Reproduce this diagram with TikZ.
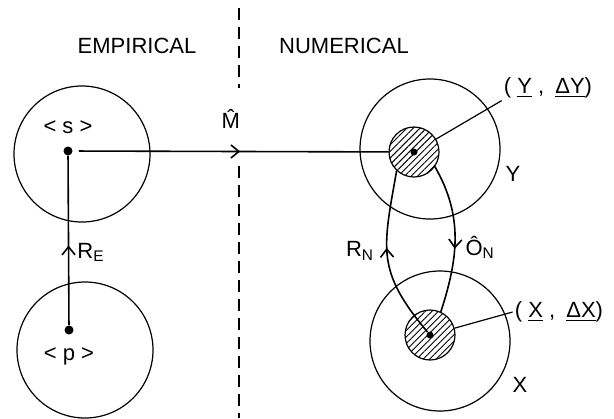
\documentclass[tikz,border=0pt]{standalone}
\usepackage{fontspec}
\setmainfont{Liberation Sans}
\usetikzlibrary{arrows.meta,positioning,decorations.markings,patterns.meta}
\tikzset{
  regcirc/.style={circle, draw, line width=0.6pt, minimum size=#1, inner sep=0pt},
  errcirc/.style={circle, draw, line width=0.6pt, minimum size=25pt, inner sep=0pt,
                  pattern={Lines[angle=45, distance=2.3pt, line width=0.45pt]}},
  ptdot/.style={circle, fill, minimum size=#1, inner sep=0pt},
  lab/.style={font=\fontsize{11}{13}\selectfont, inner sep=1pt},
  arr/.style={line width=0.8pt},
  midarr/.style={postaction={decorate}, decoration={markings,
                 mark=at position #1 with {\arrow{Straight Barb[length=4pt,width=6.5pt,line width=0.8pt]}}}},
  divline/.style={line width=0.6pt, dash pattern=on 6pt off 3.5pt},
}

\begin{document}
\begin{tikzpicture}[x=0.5pt, y=-0.5pt]
  \useasboundingbox (0,0) rectangle (614,418);
  % dividing line
  \coordinate (divA) at (239,8);
  \coordinate (divB) at (239,88);
  \coordinate (divC) at (239,166);
  \coordinate (divD) at (239,418);
  \draw[divline] (divA) -- (divB);
  \draw[divline] (divC) -- (divD);
  \node[lab] (empL) at (137,46) {EMPIRICAL};
  \node[lab] (numL) at (344,46) {NUMERICAL};
  % regions
  \node[regcirc=68pt] (regS) at (82,154) {};
  \node[regcirc=68pt] (regP) at (85,350) {};
  \node[regcirc=70pt] (regY) at (430,149) {};
  \node[regcirc=70pt] (regX) at (440,341) {};
  \node[errcirc] (errY) at (414,152) {};
  \node[errcirc] (errX) at (430,335) {};
  % points
  \node[ptdot=4.5pt] (dotS) at (68,151) {};
  \node[ptdot=4.5pt] (dotP) at (69,330) {};
  \node[ptdot=3.5pt] (dotY) at (errY) {};
  \node[ptdot=3.5pt] (dotX) at (errX) {};
  \node[lab, above=5pt of dotS] (labS) {< s >};
  \node[lab, below=5pt of dotP] (labP) {< p >};
  \node[lab] (labRY) at (513,174) {Y};
  \node[lab] (labRX) at (520,385) {X};
  \node[lab] (labYD) at (548,88) {( \underline{Y} ,\enspace\underline{ΔY})};
  \node[lab] (labXD) at (559,312) {( \underline{X} ,\enspace\underline{ΔX})};
  % relations
  \draw[arr, midarr=0.47] (dotP) -- node[lab, pos=0.43, right=3pt] {R\textsubscript{E}} (dotS);
  \draw[arr, midarr=0.53, shorten <=3pt] (dotS) -- node[lab, above=10pt] {\^{M}} (errY);
  \draw[arr, midarr=0.55] (dotX) to[out=130, in=-100, looseness=1.25] node[lab, pos=0.55, left=5pt] {R\textsubscript{N}} (errY.227);
  \draw[arr, midarr=0.57] (errY.-35) to[out=-60, in=72] node[lab, pos=0.57, right=4pt] {Ô\textsubscript{N}} (errX.65);
  % leaders
  \draw[line width=0.6pt] (errY) -- (labYD.south west);
  \draw[line width=0.6pt] (errX) -- (labXD.west);
\end{tikzpicture}
\end{document}
